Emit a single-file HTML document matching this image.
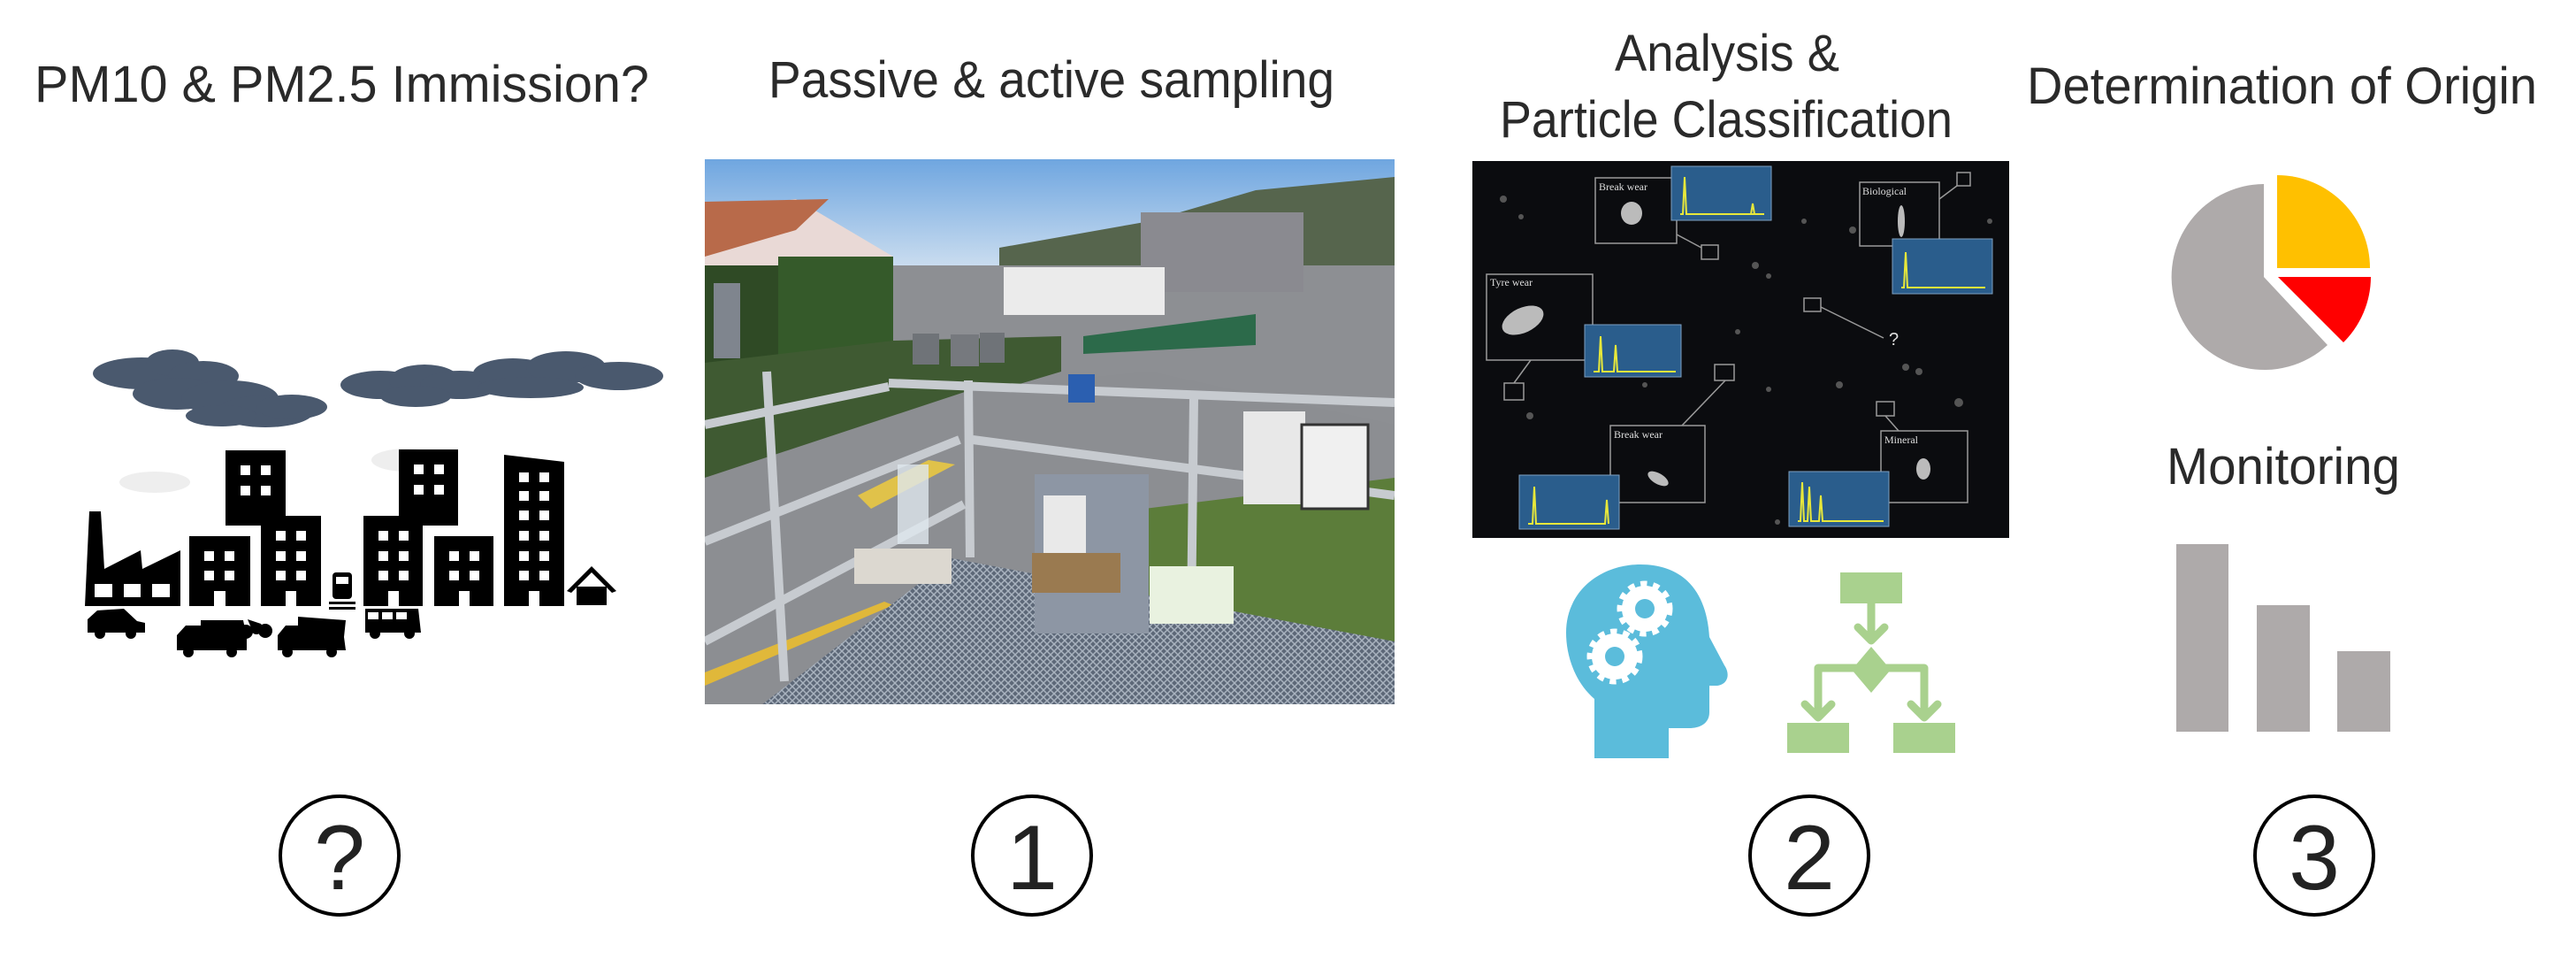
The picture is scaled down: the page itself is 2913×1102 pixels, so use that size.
<!DOCTYPE html>
<html><head><meta charset="utf-8"><style>html,body{margin:0;padding:0;background:#fff}svg{display:block}</style></head>
<body>
<svg width="2913" height="1102" viewBox="0 0 2913 1102" xmlns="http://www.w3.org/2000/svg" font-family="'Liberation Sans', sans-serif">
<rect width="2913" height="1102" fill="#fff"/>
<!-- Titles -->
<g fill="#2a2a2a" font-size="58">
<text x="39" y="115" textLength="695" lengthAdjust="spacingAndGlyphs">PM10 &amp; PM2.5 Immission?</text>
<text x="869" y="110" textLength="640" lengthAdjust="spacingAndGlyphs">Passive &amp; active sampling</text>
<text x="1826" y="80" textLength="254" lengthAdjust="spacingAndGlyphs">Analysis &amp;</text>
<text x="1696" y="155" textLength="512" lengthAdjust="spacingAndGlyphs">Particle Classification</text>
<text x="2292" y="117" textLength="577" lengthAdjust="spacingAndGlyphs">Determination of Origin</text>
<text x="2450" y="547" textLength="264" lengthAdjust="spacingAndGlyphs">Monitoring</text>
</g>
<!-- Clouds -->
<g fill="#4a596e">
<ellipse cx="160" cy="422" rx="55" ry="18"/><ellipse cx="195" cy="410" rx="30" ry="15"/><ellipse cx="230" cy="425" rx="40" ry="17"/>
<ellipse cx="200" cy="445" rx="50" ry="18"/><ellipse cx="260" cy="450" rx="55" ry="20"/><ellipse cx="300" cy="465" rx="55" ry="18"/>
<ellipse cx="330" cy="460" rx="40" ry="14"/><ellipse cx="250" cy="470" rx="40" ry="12"/>
<ellipse cx="430" cy="435" rx="45" ry="16"/><ellipse cx="480" cy="430" rx="40" ry="18"/><ellipse cx="520" cy="435" rx="45" ry="16"/>
<ellipse cx="470" cy="448" rx="40" ry="12"/><ellipse cx="580" cy="422" rx="45" ry="17"/><ellipse cx="640" cy="415" rx="45" ry="18"/>
<ellipse cx="700" cy="425" rx="50" ry="16"/><ellipse cx="600" cy="438" rx="60" ry="12"/>
</g>
<g fill="#eee"><ellipse cx="175" cy="545" rx="40" ry="12"/><ellipse cx="460" cy="520" rx="40" ry="13"/></g>
<!-- City -->
<g fill="#000">
<polygon points="101,578 114,578 118,643 159,622 161,643 204,622 204,685 96,685"/>
<rect x="214" y="606" width="69" height="79"/><rect x="255" y="509" width="68" height="85"/>
<rect x="295" y="583" width="68" height="102"/><rect x="411" y="583" width="67" height="102"/>
<rect x="451" y="508" width="67" height="86"/><rect x="491" y="606" width="67" height="79"/>
<polygon points="570,514 638,522 638,685 570,685"/>
<rect x="376" y="647" width="22" height="30" rx="4"/><rect x="372" y="680" width="30" height="3"/><rect x="372" y="686" width="30" height="3"/>
<polygon points="669,640 697,668 692,670 669,647 646,670 641,668"/><rect x="652" y="663" width="34" height="21"/>
<path d="M99,715 L99,700 L110,690 L140,688 L155,702 L164,704 L164,715 Z"/><circle cx="113" cy="716" r="6"/><circle cx="148" cy="716" r="6"/>
<path d="M200,735 L200,718 L210,707 L227,707 L227,701 L275,701 L279,720 L279,735 Z"/><circle cx="213" cy="737" r="6"/><circle cx="262" cy="737" r="6"/>
<circle cx="290" cy="711" r="6"/><circle cx="300" cy="713" r="8"/><circle cx="278" cy="714" r="8"/><path d="M280,700 L295,705 L300,712 L285,712Z"/>
<path d="M314,735 L314,718 L323,707 L337,707 L337,697 L391,701 L389,720 L391,735 Z"/><circle cx="325" cy="737" r="6"/><circle cx="375" cy="737" r="6"/>
<path d="M413,688 L473,688 L476,715 L413,715 Z"/><circle cx="424" cy="716" r="6"/><circle cx="463" cy="716" r="6"/>
</g>
<g fill="#fff">
<rect x="107" y="660" width="20" height="15"/><rect x="140" y="660" width="19" height="15"/><rect x="172" y="660" width="20" height="15"/>
<rect x="231" y="623" width="11" height="11"/><rect x="254" y="623" width="11" height="11"/><rect x="231" y="645" width="11" height="11"/><rect x="254" y="645" width="11" height="11"/><rect x="242" y="668" width="13" height="17"/>
<rect x="272" y="526" width="11" height="11"/><rect x="295" y="526" width="11" height="11"/><rect x="272" y="549" width="11" height="11"/><rect x="295" y="549" width="11" height="11"/>
<rect x="312" y="600" width="11" height="11"/><rect x="335" y="600" width="11" height="11"/><rect x="312" y="623" width="11" height="11"/><rect x="335" y="623" width="11" height="11"/><rect x="312" y="645" width="11" height="11"/><rect x="335" y="645" width="11" height="11"/><rect x="323" y="668" width="12" height="17"/>
<rect x="428" y="600" width="11" height="11"/><rect x="451" y="600" width="11" height="11"/><rect x="428" y="623" width="11" height="11"/><rect x="451" y="623" width="11" height="11"/><rect x="428" y="645" width="11" height="11"/><rect x="451" y="645" width="11" height="11"/><rect x="439" y="668" width="12" height="17"/>
<rect x="468" y="525" width="11" height="11"/><rect x="491" y="525" width="11" height="11"/><rect x="468" y="548" width="11" height="11"/><rect x="491" y="548" width="11" height="11"/>
<rect x="508" y="623" width="11" height="11"/><rect x="531" y="623" width="11" height="11"/><rect x="508" y="645" width="11" height="11"/><rect x="531" y="645" width="11" height="11"/><rect x="519" y="668" width="12" height="17"/>
<rect x="587" y="534" width="11" height="11"/><rect x="610" y="534" width="11" height="11"/><rect x="587" y="555" width="11" height="11"/><rect x="610" y="555" width="11" height="11"/><rect x="587" y="577" width="11" height="11"/><rect x="610" y="577" width="11" height="11"/><rect x="587" y="600" width="11" height="11"/><rect x="610" y="600" width="11" height="11"/><rect x="587" y="623" width="11" height="11"/><rect x="610" y="623" width="11" height="11"/><rect x="587" y="645" width="11" height="11"/><rect x="610" y="645" width="11" height="11"/><rect x="598" y="668" width="12" height="17"/>
<rect x="380" y="652" width="14" height="8"/><rect x="416" y="692" width="12" height="8"/><rect x="432" y="692" width="12" height="8"/><rect x="448" y="692" width="12" height="8"/>
</g>
<!-- Photo -->
<defs>
<linearGradient id="sky" x1="0" y1="0" x2="0" y2="1"><stop offset="0" stop-color="#6fa6e0"/><stop offset="1" stop-color="#c9dcef"/></linearGradient>
<pattern id="grate" width="8" height="8" patternUnits="userSpaceOnUse"><rect width="8" height="8" fill="#5d6878"/><path d="M0,0 L8,8 M8,0 L0,8" stroke="#a9b3bf" stroke-width="1.5"/></pattern>
<clipPath id="pc"><rect x="797" y="180" width="780" height="616"/></clipPath>
</defs>
<g clip-path="url(#pc)">
<rect x="797" y="180" width="780" height="616" fill="#8d8f93"/>
<rect x="797" y="180" width="780" height="120" fill="url(#sky)"/>
<polygon points="1130,280 1300,250 1420,215 1577,200 1577,300 1130,300" fill="#56654d"/>
<polygon points="797,240 900,225 1010,290 1010,360 797,360" fill="#e9d9d6"/>
<polygon points="797,228 937,225 900,260 797,290" fill="#b86a4a"/>
<rect x="1290" y="240" width="184" height="90" fill="#8a8a90"/>
<rect x="1135" y="302" width="182" height="54" fill="#ebebeb"/>
<rect x="797" y="300" width="140" height="115" fill="#2f4a25"/>
<rect x="880" y="290" width="130" height="120" fill="#355a2a"/>
<polygon points="797,410 1010,385 1200,380 1200,420 797,540" fill="#3f5a32"/>
<polygon points="1225,380 1420,355 1420,390 1225,400" fill="#2c6a4a"/>
<polygon points="797,540 1100,440 1300,420 1577,480 1577,800 797,800" fill="#8c8e92"/>
<polygon points="1294,575 1577,540 1577,735 1294,735" fill="#5c7d3a"/>
<polygon points="797,760 1000,680 1010,684 797,775" fill="#e0b83a"/>
<polygon points="970,560 1050,520 1080,525 985,575" fill="#e0c24a"/>
<polygon points="857,800 1076,631 1577,725 1577,800" fill="url(#grate)"/>
<g stroke="#c7cbd0" stroke-width="10" fill="none">
<line x1="797" y1="480" x2="1005" y2="437"/><line x1="1005" y1="433" x2="1577" y2="455"/>
<line x1="797" y1="612" x2="1085" y2="497"/><line x1="1100" y1="497" x2="1577" y2="560"/>
<line x1="797" y1="725" x2="1090" y2="570"/>
<line x1="867" y1="420" x2="887" y2="770"/><line x1="1095" y1="430" x2="1097" y2="630"/><line x1="1350" y1="450" x2="1347" y2="700"/>
</g>
<rect x="807" y="320" width="30" height="85" fill="#7f858e"/>
<rect x="1032" y="377" width="30" height="35" fill="#6f7378"/><rect x="1075" y="378" width="32" height="36" fill="#76797e"/><rect x="1108" y="376" width="28" height="34" fill="#6f7378"/>
<rect x="1170" y="536" width="129" height="180" fill="#8d96a4"/><rect x="1180" y="560" width="48" height="80" fill="#e9e9e9"/>
<rect x="1167" y="625" width="100" height="45" fill="#9a7a50"/>
<rect x="1406" y="465" width="70" height="105" fill="#e8e8e8"/><rect x="1472" y="480" width="75" height="95" fill="#f0f0f0" stroke="#333" stroke-width="3"/>
<rect x="1300" y="640" width="95" height="65" fill="#e9f2e0"/>
<rect x="966" y="620" width="110" height="40" fill="#dcd8d0"/>
<rect x="1015" y="525" width="35" height="90" fill="#dfe7ee" opacity="0.8"/>
<rect x="1208" y="423" width="30" height="32" fill="#2b5fb0"/>
</g>
<!-- SEM image -->
<rect x="1665" y="182" width="607" height="426" fill="#0b0c0f"/>
<g fill="#555">
<circle cx="1700" cy="225" r="4"/><circle cx="1720" cy="245" r="3"/><circle cx="1985" cy="300" r="4"/><circle cx="2040" cy="250" r="3"/>
<circle cx="2095" cy="260" r="4"/><circle cx="2000" cy="312" r="3"/><circle cx="1965" cy="375" r="3"/><circle cx="2170" cy="420" r="4"/>
<circle cx="2215" cy="455" r="5"/><circle cx="2250" cy="250" r="3"/><circle cx="1730" cy="470" r="4"/><circle cx="2000" cy="440" r="3"/>
<circle cx="2080" cy="435" r="4"/><circle cx="2010" cy="590" r="3"/><circle cx="1860" cy="435" r="3"/><circle cx="2155" cy="415" r="4"/>
</g>
<g fill="none" stroke="#9a9a9a" stroke-width="1.5">
<rect x="1804" y="201" width="92" height="74"/><rect x="1924" y="277" width="19" height="16"/><line x1="1896" y1="265" x2="1924" y2="280"/>
<rect x="2103" y="206" width="90" height="72"/><rect x="2213" y="195" width="15" height="15"/><line x1="2193" y1="225" x2="2213" y2="210"/>
<rect x="1681" y="310" width="120" height="97"/><rect x="1701" y="433" width="22" height="19"/><line x1="1731" y1="407" x2="1712" y2="433"/>
<rect x="1821" y="481" width="107" height="87"/><rect x="1939" y="412" width="22" height="18"/><line x1="1902" y1="481" x2="1951" y2="430"/>
<rect x="2127" y="487" width="98" height="81"/><rect x="2122" y="454" width="20" height="16"/><line x1="2147" y1="487" x2="2132" y2="470"/>
<rect x="2040" y="337" width="19" height="15"/><line x1="2059" y1="347" x2="2130" y2="382"/>
</g>
<g fill="#2a5d8c" stroke="#7ea0c0" stroke-width="1">
<rect x="1890" y="188" width="113" height="61"/><rect x="2140" y="270" width="113" height="62"/><rect x="1792" y="367" width="109" height="59"/>
<rect x="1718" y="537" width="113" height="61"/><rect x="2023" y="533" width="113" height="62"/>
</g>
<g stroke="#e8e83a" stroke-width="2" fill="none">
<path d="M1900,242 L1903,242 L1905,200 L1907,242 L1995,242 M1980,242 L1982,230 L1984,242"/>
<path d="M2150,325 L2153,325 L2155,285 L2157,325 L2245,325"/>
<path d="M1802,420 L1808,420 L1810,380 L1812,420 L1825,420 L1827,390 L1829,420 L1895,420"/>
<path d="M1728,592 L1733,592 L1735,550 L1737,592 L1815,592 L1817,565 L1819,592"/>
<path d="M2033,589 L2036,589 L2038,545 L2040,589 L2044,589 L2046,550 L2048,589 L2057,589 L2059,560 L2061,589 L2130,589"/>
</g>
<g fill="#ddd" font-family="'Liberation Serif', serif" font-size="12">
<text x="1808" y="215">Break wear</text><text x="2106" y="220">Biological</text><text x="1685" y="323">Tyre wear</text>
<text x="1825" y="495">Break wear</text><text x="2131" y="501">Mineral</text>
<text x="2136" y="390" font-size="20" font-family="'Liberation Sans', sans-serif">?</text>
</g>
<g fill="#bbb"><ellipse cx="1845" cy="241" rx="12" ry="13"/><ellipse cx="2150" cy="250" rx="4" ry="18"/><ellipse cx="1722" cy="362" rx="25" ry="14" transform="rotate(-25 1722 362)"/>
<ellipse cx="1875" cy="541" rx="13" ry="6" transform="rotate(30 1875 541)"/><ellipse cx="2175" cy="530" rx="8" ry="12"/></g>
<!-- Head -->
<path d="M1803,857 L1803,790 C1780,770 1771,740 1771,715 C1771,668 1810,638 1855,638 C1905,638 1930,670 1933,720 L1950,752 C1958,764 1952,775 1940,775 L1933,775 L1933,805 C1933,818 1922,823 1910,823 L1887,823 L1887,857 Z" fill="#5bbcdb"/>
<g fill="#fff">
<circle cx="1860" cy="688" r="26"/><circle cx="1826" cy="742" r="26"/>
<g stroke="#fff" stroke-width="9" stroke-dasharray="7 6.6"><circle cx="1860" cy="688" r="27" fill="none"/><circle cx="1826" cy="742" r="27" fill="none"/></g>
</g>
<g fill="#5bbcdb"><circle cx="1860" cy="688" r="11"/><circle cx="1826" cy="742" r="11"/></g>
<!-- Flowchart -->
<g fill="#a9d18e">
<rect x="2081" y="647" width="70" height="35"/><rect x="2021" y="817" width="70" height="34"/><rect x="2141" y="817" width="70" height="34"/>
<polygon points="2116,731 2138,757 2116,783 2094,757"/>
</g>
<g stroke="#a9d18e" stroke-width="9" fill="none" stroke-linecap="round" stroke-linejoin="round">
<line x1="2116" y1="682" x2="2116" y2="722"/><polyline points="2101,709 2116,724 2131,709"/>
<polyline points="2056,808 2056,755 2176,755 2176,808"/>
<polyline points="2041,796 2056,811 2071,796"/><polyline points="2161,796 2176,811 2191,796"/>
</g>
<!-- Pie -->
<path d="M2575,303 L2575,198 A105,105 0 0 1 2680,303 Z" fill="#ffc000"/>
<path d="M2576,313 L2681,313 A105,105 0 0 1 2650,387 Z" fill="#ff0000"/>
<path d="M2560,313 L2632,390 A105,105 0 1 1 2560,208 Z" fill="#aeaaaa"/>
<!-- Bars -->
<g fill="#aeaaaa"><rect x="2461" y="615" width="59" height="212"/><rect x="2552" y="684" width="60" height="143"/><rect x="2643" y="736" width="60" height="91"/></g>
<!-- Circles -->
<g fill="none" stroke="#000" stroke-width="4">
<circle cx="384" cy="967" r="67"/><circle cx="1167" cy="967" r="67"/><circle cx="2046" cy="967" r="67"/><circle cx="2617" cy="967" r="67"/>
</g>
<g fill="#222" font-size="104" text-anchor="middle">
<text x="384" y="1005">?</text><text x="1167" y="1005">1</text><text x="2046" y="1005">2</text><text x="2617" y="1005">3</text>
</g>
</svg>
</body></html>
